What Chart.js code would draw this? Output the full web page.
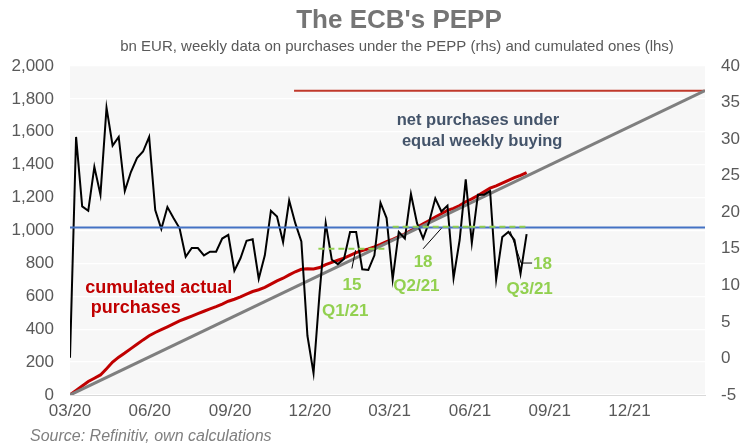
<!DOCTYPE html>
<html>
<head>
<meta charset="utf-8">
<script src="https://cdn.jsdelivr.net/npm/chart.js@4.4.0/dist/chart.umd.min.js"></script>
<style>
  html, body { margin: 0; padding: 0; background: #fff; }
</style>
</head>
<body>
<canvas id="chart" width="742" height="446"></canvas>
<script>
// x axis: weeks since start of PEPP
const tickLabels = ['03/20', '06/20', '09/20', '12/20', '03/21', '06/21', '09/21', '12/21'];
const tickWeeks = [0, 13.1, 26.3, 39.4, 52.5, 65.7, 78.8, 91.9];
const lastWeek = 104.3;

// weekly net purchases, bn EUR (rhs)
const weekly = [
  0.1, 30.3, 20.8, 20.2, 26.2, 22.4, 34.3, 29.1, 30.3, 22.9,
  25.5, 27.4, 28.3, 30.3, 20.3, 17.7, 20.7, 19.2, 17.8, 13.9,
  15.1, 15.1, 14.1, 14.6, 14.6, 16.4, 16.9, 12.0, 13.7, 16.1,
  16.3, 10.9, 14.1, 20.2, 19.4, 15.9, 21.6, 18.5, 16.0, 3.1,
  -2.0, 9.0, 18.5, 13.5, 12.9, 13.6, 17.3, 17.3, 12.2, 12.1,
  14.1, 21.3, 19.2, 10.8, 17.3, 16.4, 22.5, 18.5, 16.4, 18.7,
  21.9, 20.1, 20.9, 11.0, 16.2, 24.5, 15.8, 22.4, 22.4, 22.9,
  10.8, 16.6, 17.3, 16.2, 11.6, 17.0
];

// cumulated purchases, bn EUR (lhs)
const cumulated = [
  0, 28, 55, 82, 102, 122, 160, 200, 230, 255,
  282, 308, 335, 360, 380, 397, 414, 432, 450, 465,
  480, 495, 509, 523, 537, 553, 570, 582, 597, 613,
  629, 640, 654, 674, 694, 710, 730, 749, 764, 767,
  766, 775, 793, 806, 819, 832, 849, 866, 878, 888,
  900, 915, 932, 946, 962, 980, 1000, 1020, 1040, 1060,
  1082, 1102, 1122, 1135, 1152, 1175, 1192, 1213, 1235, 1258,
  1271, 1288, 1305, 1321, 1335, 1352
];

const envelope = 1850;
const envelopeStart = 36.8;
const equalWeekly = 17.9;

const quarterNames = ['Q1/21', 'Q2/21', 'Q3/21'];
const quarterAvg = [15, 18, 18];
const quarterFrom = [40.8, 53.0, 65.6];
const quarterTo = [52.0, 65.6, 75.2];

const RED = '#c00000';
const GREEN = '#92d050';
const SLATE = '#44546a';
const FONT = '"Liberation Sans", Arial, sans-serif';

Chart.defaults.font.family = FONT;

// text placed in data coordinates
const notes = [
  { text: 'cumulated actual', x: 2.5, y: 650, axis: 'y', color: RED, size: 18, align: 'left' },
  { text: 'purchases', x: 3.4, y: 529, axis: 'y', color: RED, size: 18, align: 'left' },
  { text: 'net purchases under', x: 67.0, y: 1672, axis: 'y', color: SLATE, size: 16.5, align: 'center' },
  { text: 'equal weekly buying', x: 67.7, y: 1544, axis: 'y', color: SLATE, size: 16.5, align: 'center' },
  { text: String(quarterAvg[0]), x: 46.3, y: 10.05, axis: 'y2', color: GREEN, size: 17, align: 'center' },
  { text: quarterNames[0], x: 45.2, y: 6.4, axis: 'y2', color: GREEN, size: 17, align: 'center' },
  { text: String(quarterAvg[1]), x: 58.0, y: 13.15, axis: 'y2', color: GREEN, size: 17, align: 'center' },
  { text: quarterNames[1], x: 56.9, y: 9.8, axis: 'y2', color: GREEN, size: 17, align: 'center' },
  { text: String(quarterAvg[2]), x: 77.6, y: 12.9, axis: 'y2', color: GREEN, size: 17, align: 'center' },
  { text: quarterNames[2], x: 75.5, y: 9.5, axis: 'y2', color: GREEN, size: 17, align: 'center' }
];
const leaders = [
  [[46.3, 12.3], [46.9, 14.8]],
  [[58.0, 15.0], [61.0, 17.8]],
  [[72.3, 17.4], [74.1, 13.05], [75.9, 13.05]]
];

const plotBackground = {
  id: 'plotBackground',
  beforeDraw(chart) {
    const { ctx, chartArea: a } = chart;
    ctx.save();
    ctx.fillStyle = '#f7f7f7';
    ctx.fillRect(a.left, a.top, a.right - a.left, a.bottom - a.top);
    ctx.restore();
  }
};

const texts = {
  id: 'texts',
  afterDraw(chart) {
    const ctx = chart.ctx;
    const xs = chart.scales.x;
    ctx.save();
    ctx.textBaseline = 'middle';

    ctx.fillStyle = '#757575';
    ctx.textAlign = 'center';
    ctx.font = 'bold 26px ' + FONT;
    ctx.fillText("The ECB's PEPP", 399, 21);
    ctx.fillStyle = '#595959';
    ctx.font = '15px ' + FONT;
    ctx.fillText('bn EUR, weekly data on purchases under the PEPP (rhs) and cumulated ones (lhs)', 397, 47);

    ctx.textAlign = 'left';
    ctx.fillStyle = '#7f7f7f';
    ctx.font = 'italic 16px ' + FONT;
    ctx.fillText('Source: Refinitiv, own calculations', 30, 437);

    notes.forEach(n => {
      ctx.fillStyle = n.color;
      ctx.textAlign = n.align;
      ctx.font = 'bold ' + n.size + 'px ' + FONT;
      ctx.fillText(n.text, xs.getPixelForValue(n.x), chart.scales[n.axis].getPixelForValue(n.y));
    });

    ctx.strokeStyle = '#000';
    ctx.lineWidth = 1;
    const y2 = chart.scales.y2;
    leaders.forEach(pts => {
      ctx.beginPath();
      pts.forEach((p, i) => {
        const px = xs.getPixelForValue(p[0]);
        const py = y2.getPixelForValue(p[1]);
        if (i === 0) ctx.moveTo(px, py); else ctx.lineTo(px, py);
      });
      ctx.stroke();
    });
    ctx.restore();
  }
};

const quarterSets = quarterAvg.map((v, i) => ({
  data: [{ x: quarterFrom[i], y: v }, { x: quarterTo[i], y: v }],
  yAxisID: 'y2',
  borderColor: GREEN,
  borderWidth: 2,
  borderDash: [6, 4]
}));

new Chart(document.getElementById('chart'), {
  type: 'line',
  data: {
    datasets: [
      ...quarterSets,
      {
        data: [{ x: 0, y: equalWeekly }, { x: lastWeek, y: equalWeekly }],
        yAxisID: 'y2',
        borderColor: '#4472c4',
        borderWidth: 2
      },
      {
        data: weekly.map((v, i) => ({ x: i, y: v })),
        yAxisID: 'y2',
        borderColor: '#000000',
        borderWidth: 2
      },
      {
        data: [{ x: 0, y: 0 }, { x: lastWeek, y: envelope }],
        yAxisID: 'y',
        borderColor: '#7f7f7f',
        borderWidth: 3
      },
      {
        data: cumulated.map((v, i) => ({ x: i, y: v })),
        yAxisID: 'y',
        borderColor: RED,
        borderWidth: 3
      },
      {
        data: [{ x: envelopeStart, y: envelope }, { x: lastWeek, y: envelope }],
        yAxisID: 'y',
        borderColor: '#c0392b',
        borderWidth: 2
      }
    ]
  },
  options: {
    responsive: false,
    animation: false,
    devicePixelRatio: 1,
    layout: { padding: { top: 66, bottom: 21, left: 0, right: 0 } },
    elements: { point: { radius: 0 }, line: { tension: 0 } },
    plugins: { legend: { display: false }, tooltip: { enabled: false } },
    scales: {
      x: {
        type: 'linear',
        min: 0,
        max: lastWeek,
        afterBuildTicks: s => { s.ticks = tickWeeks.map(v => ({ value: v })); },
        afterFit: s => { s.height = 30; },
        ticks: {
          callback: (v, i) => tickLabels[i],
          autoSkip: false,
          maxRotation: 0,
          color: '#595959',
          font: { size: 17 },
          padding: 6
        },
        grid: { display: false, drawTicks: false },
        border: { color: '#d9d9d9', width: 1 }
      },
      y: {
        position: 'left',
        min: 0,
        max: 2000,
        afterFit: s => { s.width = 70; },
        ticks: {
          stepSize: 200,
          callback: v => v.toLocaleString('en-US'),
          color: '#595959',
          font: { size: 17 },
          padding: 16
        },
        grid: { color: '#ffffff', lineWidth: 1.3, drawTicks: false },
        border: { display: false }
      },
      y2: {
        position: 'right',
        min: -5,
        max: 40,
        afterFit: s => { s.width = 37; },
        ticks: {
          stepSize: 5,
          color: '#595959',
          font: { size: 17 },
          padding: 16
        },
        grid: { display: false, drawTicks: false },
        border: { display: false }
      }
    }
  },
  plugins: [plotBackground, texts]
});
</script>
</body>
</html>
